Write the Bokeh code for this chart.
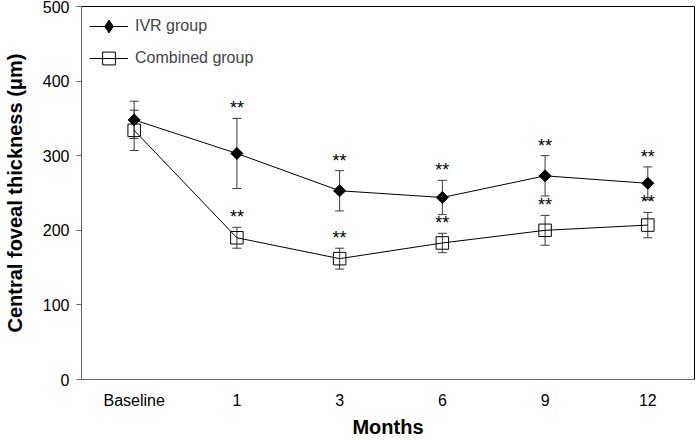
import numpy as np
from bokeh.plotting import figure
from bokeh.models import (ColumnDataSource, Whisker, TeeHead, Range1d, FixedTicker,
                          Legend, LegendItem)
from bokeh.core.properties import value
from bokeh.embed import file_html
from bokeh.resources import INLINE

# ---- data ----
months = ["Baseline", "1", "3", "6", "9", "12"]
ivr_mean = [348, 303, 253, 244, 273, 263]
ivr_sd = [25, 47, 27, 23, 27, 22]
comb_mean = [334, 190, 162, 183, 200, 207]
comb_sd = [27, 14, 14, 13, 20, 17]
ivr_sig = ["", "**", "**", "**", "**", "**"]
comb_sig = ["", "**", "**", "**", "**", "**"]
y_ticks = [0, 100, 200, 300, 400, 500]

FONT = "Liberation Sans"
xs = list(range(len(months)))

p = figure(width=699, height=440, output_backend="svg", toolbar_location=None,
           x_range=Range1d(-0.5126, 5.4545), y_range=Range1d(0, 500),
           min_border_left=77, min_border_right=5, min_border_top=6,
           min_border_bottom=60)
p.grid.visible = False
p.background_fill_color = "white"
p.border_fill_color = "white"
p.outline_line_color = "black"
p.outline_line_width = 1

ivr_src = ColumnDataSource(dict(x=xs, y=ivr_mean,
                                upper=[m + s for m, s in zip(ivr_mean, ivr_sd)],
                                lower=[m - s for m, s in zip(ivr_mean, ivr_sd)]))
comb_src = ColumnDataSource(dict(x=xs, y=comb_mean,
                                 upper=[m + s for m, s in zip(comb_mean, comb_sd)],
                                 lower=[m - s for m, s in zip(comb_mean, comb_sd)]))

l1 = p.line("x", "y", source=ivr_src, line_color="black", line_width=1)
l2 = p.line("x", "y", source=comb_src, line_color="black", line_width=1)

for src in (ivr_src, comb_src):
    w = Whisker(base="x", upper="upper", lower="lower", source=src,
                line_color="#3a3a3a", line_width=1,
                upper_head=TeeHead(size=9, line_color="#3a3a3a", line_width=1),
                lower_head=TeeHead(size=9, line_color="#3a3a3a", line_width=1))
    p.add_layout(w)

m1 = p.scatter("x", "y", source=ivr_src, marker="square", angle=np.pi / 4,
               size=8.5, fill_color="black", line_color="black")
m2 = p.scatter("x", "y", source=comb_src, marker="square", size=12.5,
               fill_color=None, line_color="black", line_width=1)
# legend-only proxy (legend markers cannot be rotated); NaN so nothing is drawn in the plot
m1_leg = p.scatter(x=[np.nan], y=[np.nan], marker="diamond",
                   fill_color="black", line_color="black")

# significance marks above the error bars
sx, sy, st = [], [], []
for mean, sd, sig in ((ivr_mean, ivr_sd, ivr_sig), (comb_mean, comb_sd, comb_sig)):
    for i, (m, s, t) in enumerate(zip(mean, sd, sig)):
        if t:
            sx.append(i)
            sy.append(m + s)
            st.append(t)
p.text(x=sx, y=sy, text=st, text_font=value(FONT), text_font_size="18px",
       text_align="center", text_baseline="bottom", text_color="black")

# axes
p.yaxis.ticker = FixedTicker(ticks=y_ticks)
p.xaxis.ticker = FixedTicker(ticks=xs)
p.xaxis.major_label_overrides = {i: m for i, m in zip(xs, months)}
for ax in (p.xaxis[0], p.yaxis[0]):
    ax.axis_line_color = "#666666"
    ax.major_tick_line_color = "#666666"
    ax.minor_tick_line_color = None
    ax.major_label_text_font = FONT
    ax.major_label_text_font_size = "16px"
    ax.major_label_text_color = "black"
    ax.axis_label_text_font = FONT
    ax.axis_label_text_font_size = "20px"
    ax.axis_label_text_font_style = "bold"
    ax.axis_label_text_color = "black"
p.xaxis.major_tick_out = 0
p.xaxis.major_tick_in = 0
p.xaxis.major_label_standoff = 12
p.xaxis.axis_label_standoff = 4
p.xaxis.axis_label = "Months"
p.yaxis.major_tick_out = 5
p.yaxis.major_tick_in = 0
p.yaxis.major_label_standoff = 7
p.yaxis.axis_label_standoff = 14
p.yaxis.axis_label = "Central foveal thickness (\u03bcm)"

legend = Legend(items=[LegendItem(label="IVR group", renderers=[l1, m1_leg]),
                       LegendItem(label="Combined group", renderers=[l2, m2])],
                location=(8, 305), margin=0, padding=0, spacing=0,
                glyph_width=39, glyph_height=32, label_standoff=7,
                label_text_font=FONT, label_text_font_size="16px",
                background_fill_alpha=0, border_line_color=None)
p.add_layout(legend)

open("out.html", "w").write(file_html(p, INLINE))
